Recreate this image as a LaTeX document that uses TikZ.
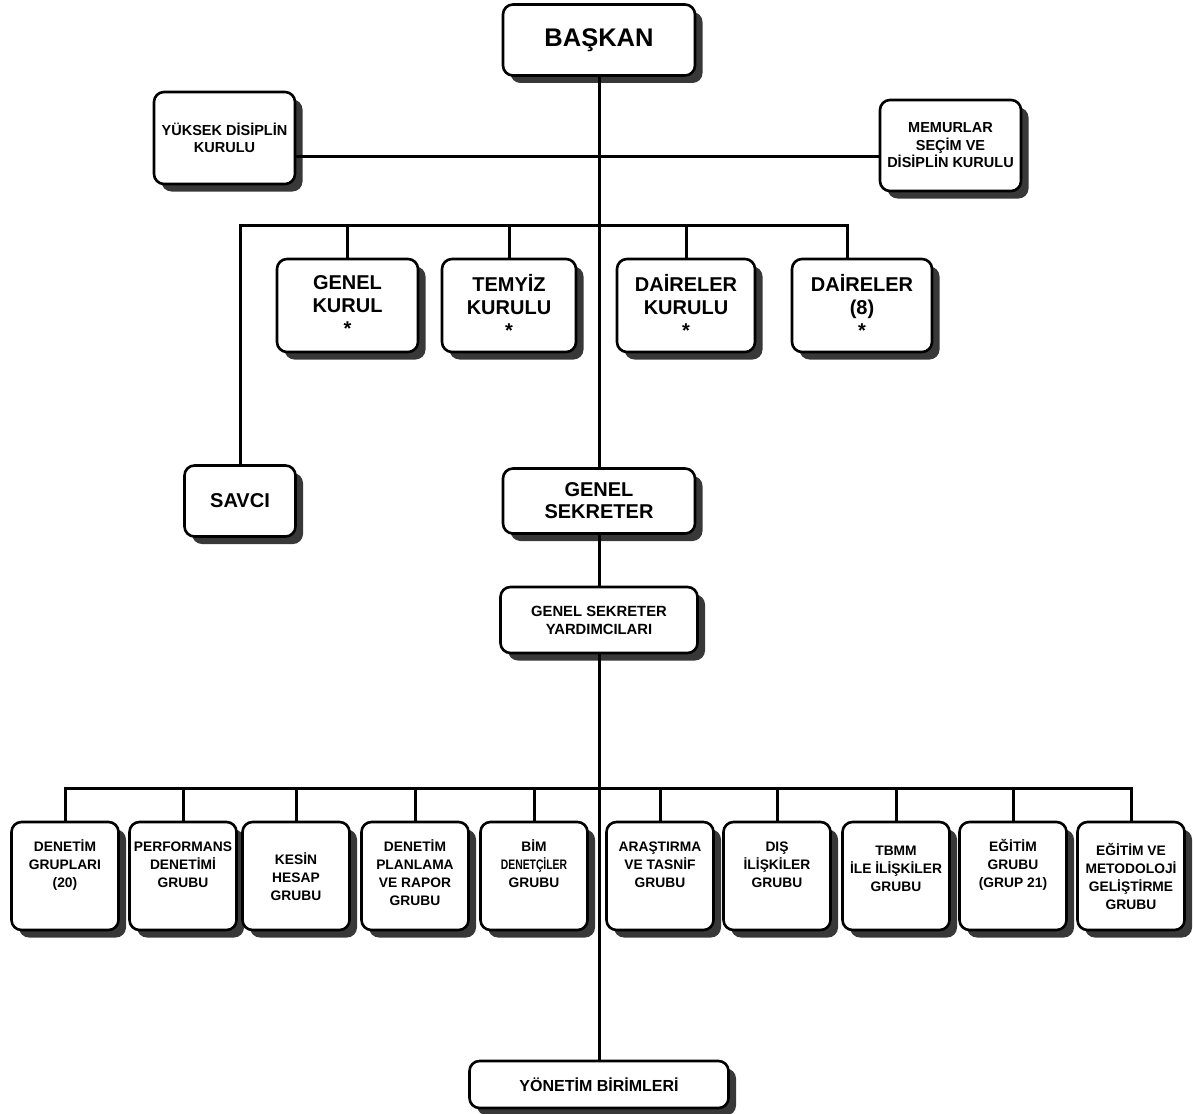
\documentclass[tikz,border=0pt]{standalone}
\usepackage{fontspec}
\usepackage{graphicx}
\setmainfont{Liberation Sans}
\usetikzlibrary{shadows}

% text of a group box, set from the top
\newcommand{\grtext}[2][0pt]{\parbox[c][106pt][t]{105pt}{\centering\vspace*{\dimexpr 16pt+#1\relax}\strut#2}}

\begin{document}
\begin{tikzpicture}[x=1pt, y=-1pt,
    box/.style={draw, line width=2.6pt, rounded corners=10pt, fill=white, align=center,
      inner sep=1pt, font=\bfseries,
      drop shadow={shadow xshift=7.5pt, shadow yshift=-7.5pt, fill=black!78, opacity=1}},
    wire/.style={line width=3pt}]
      \useasboundingbox (0,0) rectangle (1193,1113);

      % Draw the top of the chart
      \node[box, minimum width=192pt, minimum height=71pt, font=\fontsize{25.5}{28}\selectfont\bfseries] (baskan) at (599,40) {BAŞKAN};
      \node[box, minimum width=141pt, minimum height=92pt, font=\fontsize{14.5}{17.5}\selectfont\bfseries] (yuksek) at (224.5,138) {YÜKSEK DİSİPLİN\\KURULU};
      \node[box, minimum width=141pt, minimum height=91pt, font=\fontsize{14.5}{17.5}\selectfont\bfseries] (memur) at (950.5,145.5) {MEMURLAR\\SEÇİM VE\\DİSİPLİN KURULU};

      % Draw the boards
      \foreach \x/\w/\n/\t in {347.5/141/genel/{GENEL\\KURUL\\*}, 509/134/temyiz/{TEMYİZ\\KURULU\\*},
                              686/138/dkurul/{DAİRELER\\KURULU\\*}, 862/140/daire8/{DAİRELER\\(8)\\*}}
        \node[box, minimum width=\w pt, minimum height=93pt, font=\fontsize{20}{23}\selectfont\bfseries] (\n) at (\x,305.5) {\t};

      \node[box, minimum width=111pt, minimum height=71pt, font=\fontsize{20}{22}\selectfont\bfseries] (savci) at (240,501) {SAVCI};
      \node[box, minimum width=192pt, minimum height=65pt, font=\fontsize{20}{22}\selectfont\bfseries] (sekreter) at (599,501) {GENEL\\SEKRETER};
      \node[box, minimum width=197pt, minimum height=66pt, font=\fontsize{14.8}{18}\selectfont\bfseries] (yard) at (599,620) {GENEL SEKRETER\\YARDIMCILARI};

      % Draw the groups
      \foreach \x/\d/\t [count=\i] in {65/0/{DENETİM\\GRUPLARI\\(20)}, 183/0/{PERFORMANS\\DENETİMİ\\GRUBU},
          296/13/{KESİN\\HESAP\\GRUBU}, 415/0/{DENETİM\\PLANLAMA\\VE RAPOR\\GRUBU},
          534/0/{BİM\\\scalebox{0.75}[1]{DENETÇİLER}\\GRUBU}, 660/0/{ARAŞTIRMA\\VE TASNİF\\GRUBU},
          777/0/{DIŞ\\İLİŞKİLER\\GRUBU}, 896/4/{TBMM\\İLE İLİŞKİLER\\GRUBU},
          1013/0/{EĞİTİM\\GRUBU\\(GRUP 21)}, 1131/4/{EĞİTİM VE\\METODOLOJİ\\GELİŞTİRME\\GRUBU}}
        \node[box, minimum width=107pt, minimum height=108pt, font=\fontsize{13.8}{18}\selectfont\bfseries] (g\i) at (\x,876) {\grtext[\d pt]{\t}};

      \node[box, minimum width=259pt, minimum height=47pt, font=\fontsize{16}{18}\selectfont\bfseries] (yonetim) at (599,1084.5) {YÖNETİM BİRİMLERİ};

      % Draw the main line
      \draw[wire] (baskan.south) -- (sekreter.north);
      \draw[wire] (sekreter.south) -- (yard.north);
      \draw[wire] (yard.south) -- (yonetim.north);

      % Draw the bus lines
      \coordinate (bus1) at (599,156);
      \coordinate (bus2) at (599,225);
      \coordinate (bus3) at (599,788);
      \draw[wire] (yuksek.east |- bus1) -- (memur.west |- bus1);
      \draw[wire] (savci.north) |- (bus2) -| ([xshift=-15pt]daire8.north);
      \foreach \n in {genel,temyiz,dkurul}
        \draw[wire] (\n.north) -- (\n.north |- bus2);
      \draw[wire] (g1.north) |- (bus3) -| (g10.north);
      \foreach \i in {2,...,9}
        \draw[wire] (g\i.north) -- (g\i.north |- bus3);
    \end{tikzpicture}
\end{document}
